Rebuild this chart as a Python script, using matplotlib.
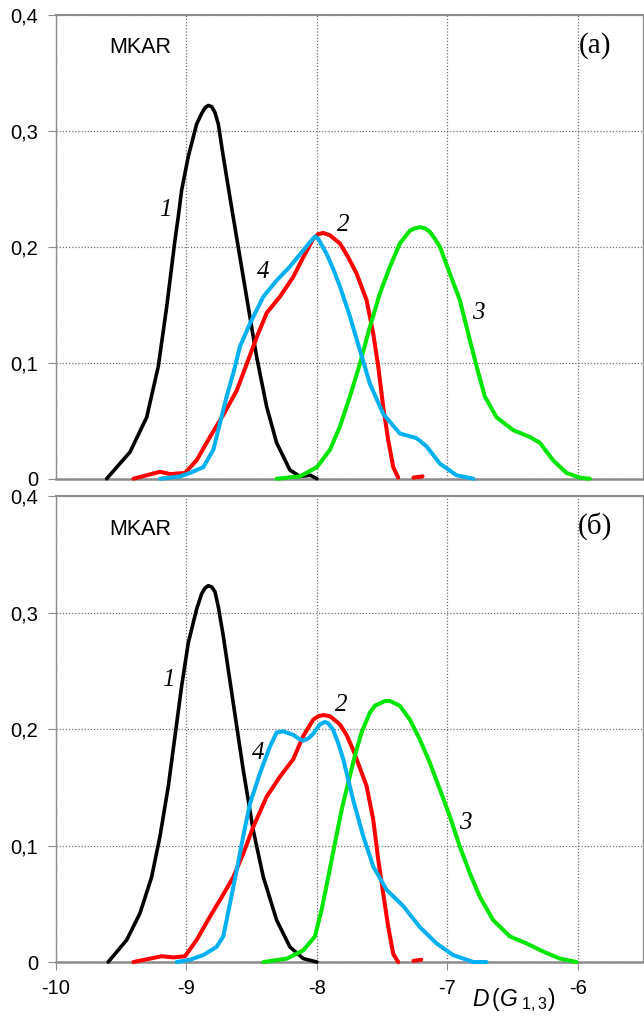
import numpy as np
import matplotlib.pyplot as plt

nan = np.nan

# panel (a): density curves 1-4
a1_x = [-9.612, -9.433, -9.305, -9.216, -9.152, -9.088, -9.063, -9.037, -8.986, -8.922, -8.884,
        -8.858, -8.833, -8.807, -8.782, -8.756, -8.718, -8.654, -8.590, -8.526, -8.462, -8.385,
        -8.309, -8.207, -8.13, -8.05, -8.0]
a1_y = [0.0, 0.023, 0.053, 0.097, 0.148, 0.206, 0.226, 0.249, 0.278, 0.306, 0.315,
        0.320, 0.322, 0.321, 0.316, 0.306, 0.278, 0.234, 0.191, 0.148, 0.105, 0.062,
        0.031, 0.0075, 0.002, 0.003, 0.0]

a2_x = [-9.407, -9.203, -9.126, -9.011, -8.922, -8.82, -8.718, -8.615, -8.538, -8.462,
        -8.385, -8.284, -8.182, -8.105, -8.028, -7.99, -7.951, -7.9, -7.824, -7.76, -7.696,
        -7.619, -7.568, -7.53, -7.492, -7.453, -7.415, -7.377, nan, -7.26, -7.19]
a2_y = [0.0, 0.006, 0.004, 0.005, 0.016, 0.036, 0.055, 0.076, 0.099, 0.122,
        0.143, 0.157, 0.174, 0.191, 0.207, 0.211, 0.212, 0.210, 0.203, 0.191, 0.177,
        0.154, 0.125, 0.097, 0.062, 0.033, 0.010, 0.001, nan, 0.001, 0.002]

a3_x = [-8.309, -8.13, -8.0, -7.9, -7.824, -7.747, -7.671, -7.594, -7.517, -7.44,
        -7.364, -7.287, -7.249, -7.211, -7.172, -7.134, -7.096, -7.057, -6.981, -6.904,
        -6.84, -6.776, -6.713, -6.623, -6.496, -6.368, -6.291, -6.19, -6.087, -5.985, -5.908]
a3_y = [0.0, 0.002, 0.010, 0.025, 0.045, 0.071, 0.099, 0.131, 0.160, 0.183,
        0.203, 0.214, 0.216, 0.217, 0.216, 0.213, 0.207, 0.200, 0.177, 0.154,
        0.125, 0.097, 0.071, 0.053, 0.042, 0.036, 0.031, 0.016, 0.005, 0.001, 0.0]

a4_x = [-9.203, -9.05, -8.973, -8.871, -8.794, -8.743, -8.692, -8.641, -8.59, -8.513,
        -8.411, -8.309, -8.207, -8.105, -8.054, -8.015, -7.99, -7.926, -7.875, -7.824,
        -7.747, -7.671, -7.594, -7.492, -7.364, -7.236, -7.16, -7.057, -6.93, -6.80]
a4_y = [0.0, 0.002, 0.005, 0.010, 0.025, 0.048, 0.071, 0.091, 0.114, 0.134,
        0.157, 0.171, 0.183, 0.197, 0.204, 0.209, 0.207, 0.194, 0.181, 0.166,
        0.140, 0.111, 0.082, 0.056, 0.039, 0.035, 0.028, 0.013, 0.003, 0.0]

# panel (б)
b1_x = [-9.6, -9.458, -9.356, -9.267, -9.203, -9.139, -9.088, -9.037, -8.986, -8.922,
        -8.884, -8.858, -8.833, -8.807, -8.782, -8.756, -8.718, -8.641, -8.565, -8.488,
        -8.411, -8.309, -8.207, -8.105, -8.0]
b1_y = [0.0, 0.019, 0.042, 0.073, 0.108, 0.151, 0.194, 0.237, 0.274, 0.303,
        0.316, 0.321, 0.323, 0.322, 0.318, 0.305, 0.280, 0.222, 0.165, 0.113,
        0.073, 0.036, 0.013, 0.003, 0.0]

b2_x = [-9.407, -9.19, -9.1, -9.011, -8.922, -8.82, -8.718, -8.641, -8.565, -8.488,
        -8.385, -8.284, -8.182, -8.105, -8.028, -7.99, -7.951, -7.9, -7.824, -7.773, -7.722,
        -7.619, -7.568, -7.53, -7.492, -7.453, -7.415, -7.377, nan, -7.26, -7.2]
b2_y = [0.0, 0.005, 0.004, 0.005, 0.019, 0.039, 0.058, 0.073, 0.093, 0.116,
        0.142, 0.159, 0.174, 0.194, 0.208, 0.211, 0.212, 0.211, 0.204, 0.195, 0.182,
        0.151, 0.122, 0.088, 0.059, 0.030, 0.007, 0.0, nan, 0.001, 0.002]

b3_x = [-8.41, -8.23, -8.105, -8.015, -7.964, -7.913, -7.862, -7.81, -7.76, -7.709,
        -7.658, -7.594, -7.556, -7.517, -7.479, -7.44, -7.402, -7.364, -7.326, -7.287,
        -7.211, -7.134, -7.057, -6.981, -6.904, -6.827, -6.751, -6.649, -6.521, -6.393,
        -6.266, -6.138, -6.01]
b3_y = [0.0, 0.003, 0.010, 0.022, 0.045, 0.073, 0.102, 0.131, 0.154, 0.177,
        0.197, 0.214, 0.220, 0.222, 0.224, 0.224, 0.222, 0.220, 0.214, 0.208,
        0.191, 0.171, 0.148, 0.125, 0.099, 0.076, 0.056, 0.036, 0.022, 0.016,
        0.009, 0.003, 0.0]

b4_x = [-9.075, -8.973, -8.871, -8.769, -8.718, -8.667, -8.615, -8.565, -8.513, -8.437,
        -8.36, -8.309, -8.258, -8.182, -8.143, -8.105, -8.066, -8.028, -7.977, -7.939,
        -7.913, -7.875, -7.837, -7.798, -7.722, -7.645, -7.568, -7.466, -7.338, -7.211,
        -7.083, -6.956, -6.80, -6.70]
b4_y = [0.0, 0.002, 0.006, 0.013, 0.022, 0.050, 0.079, 0.108, 0.136, 0.162,
        0.185, 0.197, 0.198, 0.195, 0.192, 0.190, 0.192, 0.196, 0.204, 0.206,
        0.205, 0.199, 0.188, 0.174, 0.139, 0.108, 0.082, 0.062, 0.048, 0.030,
        0.016, 0.006, 0.0, 0.0]

# curve number labels: (text, x, y)
a_labels = [("1", -9.165, 0.232), ("2", -7.8, 0.219), ("3", -6.764, 0.143), ("4", -8.41, 0.178)]
b_labels = [("1", -9.14, 0.242), ("2", -7.81, 0.221), ("3", -6.866, 0.119), ("4", -8.45, 0.179)]

yticks = [0, 0.1, 0.2, 0.3, 0.4]
ytick_labels = ["0", "0,1", "0,2", "0,3", "0,4"]
xticks = [-10, -9, -8, -7, -6]
xtick_labels = ["-10", "-9", "-8", "-7", "-6"]

colors = ["black", "#ff0000", "#00e600", "#00b0f0"]

plt.rcParams['font.family'] = ['Liberation Sans', 'DejaVu Sans']
plt.rcParams['mathtext.fontset'] = 'custom'
plt.rcParams['mathtext.rm'] = 'Liberation Sans'
plt.rcParams['mathtext.it'] = 'Liberation Sans:italic'

fig = plt.figure(figsize=(6.44, 10.16), dpi=100)
ax_a = fig.add_axes([0.087, 0.5288, 0.9115, 0.4564])
ax_b = fig.add_axes([0.087, 0.0531, 0.9115, 0.4587])

panels = [
    (ax_a, [(a1_x, a1_y), (a2_x, a2_y), (a3_x, a3_y), (a4_x, a4_y)], a_labels, "(a)"),
    (ax_b, [(b1_x, b1_y), (b2_x, b2_y), (b3_x, b3_y), (b4_x, b4_y)], b_labels, "(б)"),
]

grey = "#8c8c8c"
for ax, curves, labels, tag in panels:
    ax.set_xlim(-10, -5.5)
    ax.set_ylim(0, 0.4)
    ax.set_yticks(yticks)
    ax.set_yticklabels(ytick_labels)
    ax.set_xticks(xticks)
    for sp in ax.spines.values():
        sp.set_color(grey)
        sp.set_linewidth(1.0)
    ax.spines['bottom'].set_linewidth(1.8)
    ax.spines['top'].set_linewidth(1.5)
    ax.grid(True, color="#707070", linestyle=(0, (1, 1.5)), linewidth=0.9)
    ax.tick_params(axis='y', length=6, color=grey, labelsize=14.5, pad=7)
    ax.tick_params(axis='x', length=6, color=grey, labelsize=14.5, pad=6)

    for (x, y), c in zip(curves, colors):
        lw = 2.6 if c == "black" else 2.9
        ax.plot(x, y, color=c, lw=lw, solid_joinstyle='round',
                solid_capstyle='round', clip_on=False, zorder=3)

    for txt, x, y in labels:
        ax.text(x, y, txt, fontsize=18, fontstyle='italic', family='Liberation Serif',
                ha='center', va='center', zorder=4)

    ax.text(0.143, 0.929, "MKAR", transform=ax.transAxes, fontsize=15.5,
            ha='center', va='center')
    ax.text(0.918, 0.935, tag, transform=ax.transAxes, fontsize=21,
            family='Liberation Serif', ha='center', va='center')

ax_a.set_xticklabels([])
ax_a.tick_params(axis='x', length=0)
ax_b.set_xticklabels(xtick_labels)

# axis title below the lower panel
fig.text(0.798, 0.0095, r"$D\,(G_{\ 1,3})$", fontsize=16.5, ha='center', va='baseline')

fig.savefig("out.png", dpi=100)
